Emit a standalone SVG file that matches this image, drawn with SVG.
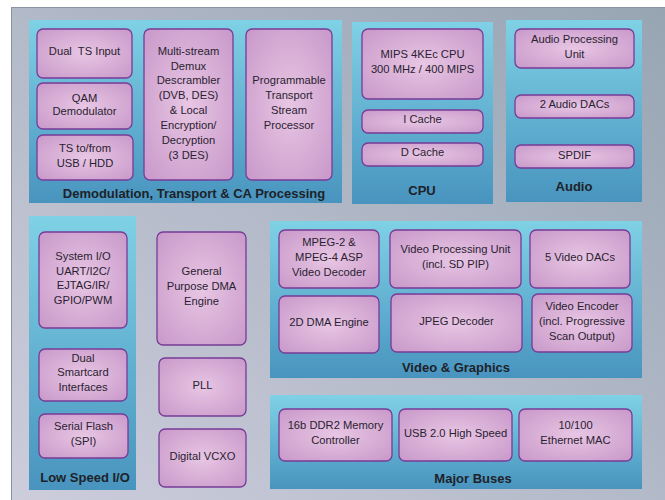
<svg xmlns="http://www.w3.org/2000/svg" width="665" height="500" viewBox="0 0 665 500">
<defs>
<linearGradient id="bg" x1="0" y1="1" x2="1" y2="0">
<stop offset="0" stop-color="#cdcddc"/>
<stop offset="1" stop-color="#97a5b3"/>
</linearGradient>
<linearGradient id="sec" x1="0" y1="0" x2="0" y2="1">
<stop offset="0" stop-color="#7fd1e5"/>
<stop offset="1" stop-color="#4894bf"/>
</linearGradient>
<radialGradient id="node" cx="0.5" cy="0.5" r="0.7">
<stop offset="0" stop-color="#e8c6e4"/>
<stop offset="1" stop-color="#c898c9"/>
</radialGradient>
</defs>
<style>
.sec{fill:url(#sec)}
.n rect{fill:url(#node);stroke:#773b98;stroke-width:1.3}
.n text{font-family:"Liberation Sans",Arial,sans-serif;font-size:11.2px;fill:#2a2230;text-anchor:middle;white-space:pre}
.t{font-family:"Liberation Sans",Arial,sans-serif;font-size:13px;font-weight:bold;fill:#1e2228;text-anchor:middle}
</style>
<rect x="0" y="0" width="665" height="500" fill="#ffffff"/>
<rect x="11" y="7" width="654" height="493" fill="url(#bg)"/>
<line x1="11" y1="7.5" x2="665" y2="7.5" stroke="#8a94a2" stroke-width="1"/>
<line x1="11.5" y1="7" x2="11.5" y2="500" stroke="#8a90a0" stroke-width="1"/>

<g id="sec-demod">
<rect class="sec" x="29" y="20" width="313" height="183"/>
<text class="t" x="194" y="198">Demodulation, Transport &amp; CA Processing</text>
</g>
<g id="sec-cpu">
<rect class="sec" x="352" y="22" width="141" height="182"/>
<text class="t" x="422" y="195">CPU</text>
</g>
<g id="sec-audio">
<rect class="sec" x="506" y="20" width="136" height="182"/>
<text class="t" x="574" y="191">Audio</text>
</g>
<g id="sec-lowspeed">
<rect class="sec" x="29" y="216" width="107" height="274"/>
<text class="t" x="85" y="482">Low Speed I/O</text>
</g>
<g id="sec-video">
<rect class="sec" x="270" y="221" width="372" height="157"/>
<text class="t" x="456" y="372">Video &amp; Graphics</text>
</g>
<g id="sec-buses">
<rect class="sec" x="270" y="395" width="372" height="94"/>
<text class="t" x="473" y="483">Major Buses</text>
</g>

<g id="dual-ts" class="n"><rect x="37" y="29" width="95" height="49" rx="6"/><text x="84.5" y="55" xml:space="preserve">Dual  TS Input</text></g>
<g id="qam" class="n"><rect x="37" y="83" width="95" height="46" rx="6"/><text x="84.5" y="102">QAM</text><text x="84.5" y="115">Demodulator</text></g>
<g id="ts-usb" class="n"><rect x="37" y="135" width="96" height="45" rx="6"/><text x="85" y="152">TS to/from</text><text x="85" y="167">USB / HDD</text></g>
<g id="demux" class="n"><rect x="144" y="29" width="89" height="151" rx="6"/>
<text x="188.5" y="55">Multi-stream</text><text x="188.5" y="70">Demux</text><text x="188.5" y="84">Descrambler</text><text x="188.5" y="99">(DVB, DES)</text><text x="188.5" y="114">&amp; Local</text><text x="188.5" y="129">Encryption/</text><text x="188.5" y="144">Decryption</text><text x="188.5" y="159">(3 DES)</text></g>
<g id="tsp" class="n"><rect x="246" y="29" width="86" height="151" rx="6"/>
<text x="289" y="84">Programmable</text><text x="289" y="99">Transport</text><text x="289" y="114">Stream</text><text x="289" y="129">Processor</text></g>

<g id="mips" class="n"><rect x="362" y="29" width="121" height="70" rx="6"/><text x="422.5" y="58">MIPS 4KEc CPU</text><text x="422.5" y="73">300 MHz / 400 MIPS</text></g>
<g id="icache" class="n"><rect x="362" y="110" width="121" height="23" rx="6"/><text x="422.5" y="123">I Cache</text></g>
<g id="dcache" class="n"><rect x="362" y="143" width="121" height="23" rx="6"/><text x="422.5" y="156">D Cache</text></g>

<g id="apu" class="n"><rect x="515" y="29" width="119" height="39" rx="6"/><text x="574.5" y="43">Audio Processing</text><text x="574.5" y="58">Unit</text></g>
<g id="adacs" class="n"><rect x="515" y="95" width="119" height="23" rx="6"/><text x="574.5" y="108">2 Audio DACs</text></g>
<g id="spdif" class="n"><rect x="515" y="145" width="119" height="23" rx="6"/><text x="574.5" y="159">SPDIF</text></g>

<g id="sysio" class="n"><rect x="39" y="232" width="88" height="96" rx="6"/>
<text x="83" y="260">System I/O</text><text x="83" y="275">UART/I2C/</text><text x="83" y="289">EJTAG/IR/</text><text x="83" y="304">GPIO/PWM</text></g>
<g id="smartcard" class="n"><rect x="39" y="349" width="88" height="52" rx="6"/>
<text x="83" y="362">Dual</text><text x="83" y="376">Smartcard</text><text x="83" y="391">Interfaces</text></g>
<g id="spi" class="n"><rect x="39" y="414" width="89" height="44" rx="6"/>
<text x="83.5" y="430">Serial Flash</text><text x="83.5" y="445">(SPI)</text></g>

<g id="gpdma" class="n"><rect x="157" y="232" width="89" height="113" rx="6"/>
<text x="201.5" y="275">General</text><text x="201.5" y="290">Purpose DMA</text><text x="201.5" y="305">Engine</text></g>
<g id="pll" class="n"><rect x="159" y="358" width="87" height="58" rx="6"/><text x="202.5" y="389">PLL</text></g>
<g id="vcxo" class="n"><rect x="159" y="429" width="87" height="58" rx="6"/><text x="202.5" y="460">Digital VCXO</text></g>

<g id="mpeg" class="n"><rect x="279" y="230" width="100" height="58" rx="6"/>
<text x="329" y="246">MPEG-2 &amp;</text><text x="329" y="261">MPEG-4 ASP</text><text x="329" y="276">Video Decoder</text></g>
<g id="vpu" class="n"><rect x="390" y="230" width="131" height="58" rx="6"/>
<text x="455.5" y="253">Video Processing Unit</text><text x="455.5" y="268">(incl. SD PIP)</text></g>
<g id="vdacs" class="n"><rect x="530" y="230" width="100" height="58" rx="6"/><text x="580" y="261">5 Video DACs</text></g>
<g id="dma2d" class="n"><rect x="279" y="296" width="100" height="57" rx="6"/><text x="329" y="326">2D DMA Engine</text></g>
<g id="jpeg" class="n"><rect x="391" y="294" width="131" height="58" rx="6"/><text x="456.5" y="325">JPEG Decoder</text></g>
<g id="venc" class="n"><rect x="532" y="294" width="100" height="58" rx="6"/>
<text x="582" y="310">Video Encoder</text><text x="582" y="325">(incl. Progressive</text><text x="582" y="340">Scan Output)</text></g>

<g id="ddr2" class="n"><rect x="279" y="409" width="113" height="52" rx="6"/>
<text x="335.5" y="429">16b DDR2 Memory</text><text x="335.5" y="444">Controller</text></g>
<g id="usb" class="n"><rect x="399" y="409" width="113" height="52" rx="6"/><text x="455.5" y="437">USB 2.0 High Speed</text></g>
<g id="eth" class="n"><rect x="519" y="409" width="113" height="52" rx="6"/>
<text x="575.5" y="429">10/100</text><text x="575.5" y="444">Ethernet MAC</text></g>

<g id="connectors"/>
</svg>
